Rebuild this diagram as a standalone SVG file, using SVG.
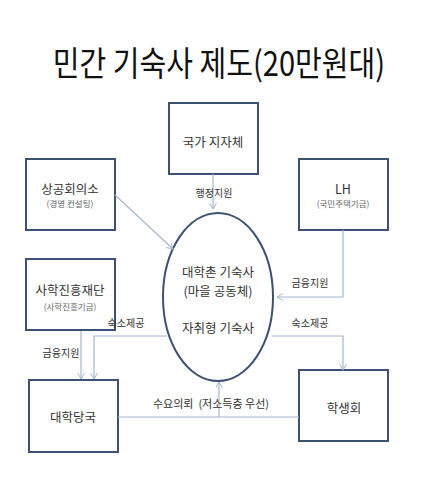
<svg xmlns="http://www.w3.org/2000/svg" width="427" height="480" viewBox="0 0 427 480">
<style>
  text { font-family: "Noto Sans CJK KR", "Noto Sans", sans-serif; fill: #333; text-anchor: middle; }
  .title { font-size: 34px; fill: #111; }
  .box { fill: #fff; stroke: #3d5172; stroke-width: 2; }
  .ell { fill: #fff; stroke: #3d5172; stroke-width: 2; }
  .name { font-size: 12.5px; }
  .sub { font-size: 8.5px; fill: #666; }
  .lbl { font-size: 10px; }
  .conn { fill: none; stroke: #a3b7cf; stroke-width: 1.2; }
</style>
<defs>
  <marker id="arr" markerUnits="userSpaceOnUse" markerWidth="8" markerHeight="8" refX="6" refY="3.5" orient="auto">
    <path d="M0,0 L6,3.5 L0,7" fill="none" stroke="#a3b7cf" stroke-width="1"/>
  </marker>
</defs>
<rect width="427" height="480" fill="#fff"/>
<text class="title" transform="translate(219,76) scale(0.855,1)" x="0" y="0">민간 기숙사 제도(20만원대)</text>

<g id="node-gov">
  <rect class="box" x="169" y="103" width="89" height="71"/>
  <text class="name" x="213" y="147">국가 지자체</text>
</g>
<g id="node-chamber">
  <rect class="box" x="26" y="159" width="89" height="71"/>
  <text class="name" x="70" y="194">상공회의소</text>
  <text class="sub" x="70" y="207">(경영 컨설팅)</text>
</g>
<g id="node-lh">
  <rect class="box" x="299" y="159" width="89" height="71"/>
  <text class="name" x="343" y="194">LH</text>
  <text class="sub" x="343" y="207">(국민주택기금)</text>
</g>
<g id="node-foundation">
  <rect class="box" x="26" y="259" width="89" height="71"/>
  <text class="name" x="70" y="295">사학진흥재단</text>
  <text class="sub" x="70" y="310">(사학진흥기금)</text>
</g>
<g id="node-university">
  <rect class="box" x="29" y="380" width="89" height="72"/>
  <text class="name" x="73" y="422">대학당국</text>
</g>
<g id="node-students">
  <rect class="box" x="299" y="370" width="89" height="71"/>
  <text class="name" x="344" y="413">학생회</text>
</g>
<g id="node-dorm">
  <ellipse class="ell" cx="218" cy="297" rx="55" ry="84"/>
  <text class="name" x="218" y="277">대학촌 기숙사</text>
  <text class="name" x="218" y="296">(마을 공동체)</text>
  <text class="name" x="218" y="333">자취형 기숙사</text>
</g>

<g id="connectors">
  <path class="conn" d="M213,174 V209" marker-end="url(#arr)"/>
  <path class="conn" d="M115,195 L173,249" marker-end="url(#arr)"/>
  <path class="conn" d="M343,230 V297 H277" marker-end="url(#arr)"/>
  <path class="conn" d="M272,336 H343 V370" marker-end="url(#arr)"/>
  <path class="conn" d="M167,336 H94 V379" marker-end="url(#arr)"/>
  <path class="conn" d="M81,331 V379" marker-end="url(#arr)"/>
  <path class="conn" d="M118,417 H299"/>
  <path class="conn" d="M219,417 V382" marker-end="url(#arr)"/>
  <text class="lbl" x="214" y="197">행정지원</text>
  <text class="lbl" x="310" y="287">금융지원</text>
  <text class="lbl" x="61" y="357">금융지원</text>
  <text class="lbl" x="126" y="327">숙소제공</text>
  <text class="lbl" x="310" y="327">숙소제공</text>
  <text class="lbl" x="211" y="408" style="font-size:11px; white-space:pre">수요의뢰  (저소득층 우선)</text>
</g>
</svg>
